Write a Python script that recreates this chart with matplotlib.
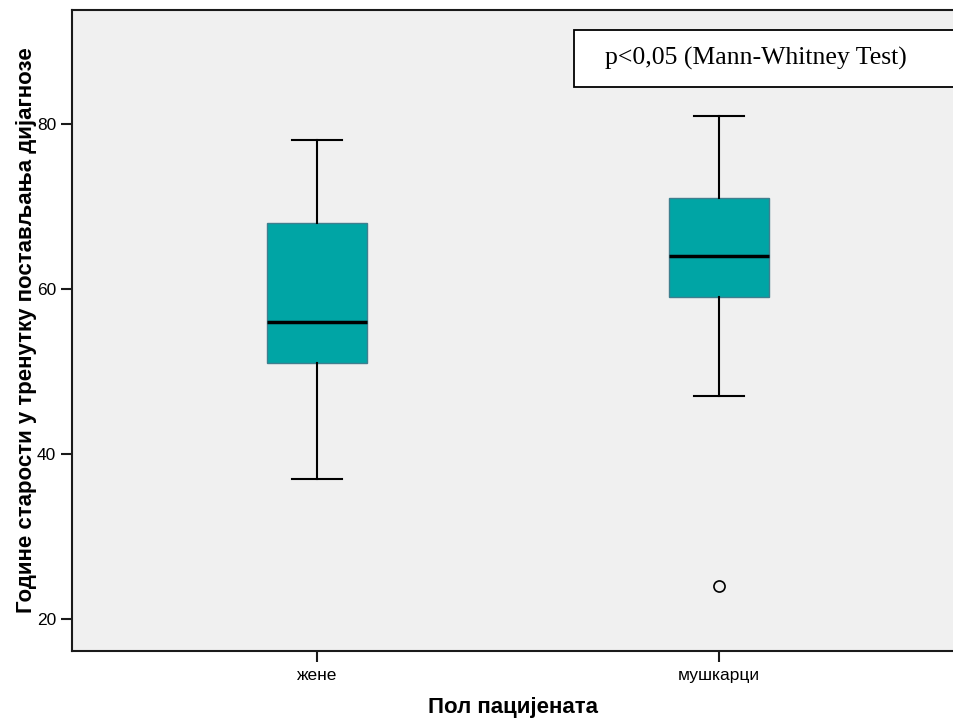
import matplotlib.pyplot as plt
from matplotlib.patches import Rectangle

# box statistics
groups = ["жене", "мушкарци"]
whisker_low = [37, 47]
q1 = [51, 59]
medians = [56, 64]
q3 = [68, 71]
whisker_high = [78, 81]
outliers = [[], [24]]

y_ticks = [20, 40, 60, 80]
note = "p<0,05 (Mann-Whitney Test)"

plt.rcParams['font.family'] = ['Liberation Sans', 'DejaVu Sans']

fig = plt.figure(figsize=(9.54, 7.22), dpi=100)
ax = fig.add_axes([72 / 954, 71 / 722, 1 - 72 / 954, 641 / 722])
ax.set_facecolor('#f0f0f0')

stats = []
for i, name in enumerate(groups):
    stats.append({
        'label': name,
        'whislo': whisker_low[i],
        'q1': q1[i],
        'med': medians[i],
        'q3': q3[i],
        'whishi': whisker_high[i],
        'fliers': outliers[i],
    })

ax.bxp(stats, positions=[1, 2], widths=0.25, patch_artist=True,
       boxprops=dict(facecolor='#00a5a5', edgecolor='#3f7f8f', linewidth=1),
       medianprops=dict(color='black', linewidth=2.5),
       whiskerprops=dict(color='black', linewidth=1.5),
       capprops=dict(color='black', linewidth=1.5),
       capwidths=0.125,
       flierprops=dict(marker='o', markerfacecolor='none', markeredgecolor='black',
                       markersize=8, markeredgewidth=1.2))

ax.set_xlim(0.39, 2.585)
ax.set_ylim(16.1, 93.8)
ax.set_yticks(y_ticks)
ax.set_xticks([1, 2])
ax.set_xticklabels(groups)

for s in ['left', 'bottom', 'top']:
    ax.spines[s].set_linewidth(1.5)
    ax.spines[s].set_color('#1a1a1a')
ax.spines['right'].set_visible(False)
ax.tick_params(direction='out', length=8, width=1.5, labelsize=12.5, color='#1a1a1a')
ax.tick_params(axis='x', pad=4)

ax.set_xlabel("Пол пацијената", fontsize=16, fontweight='bold', labelpad=10)
ax.set_ylabel("Године старости у тренутку постављања дијагнозе", fontsize=16,
              fontweight='bold', labelpad=0)

# annotation box, running off the right edge like the original
ax.add_patch(Rectangle((1.639, 84.47), 1.2, 6.91, facecolor='white',
                       edgecolor='black', linewidth=1.3, clip_on=False, zorder=5))
ax.text(2.093, 87.92, note, family=['Liberation Serif', 'DejaVu Serif'],
        fontsize=18.5, ha='center', va='center', zorder=6)

fig.savefig('out.png', dpi=100)
